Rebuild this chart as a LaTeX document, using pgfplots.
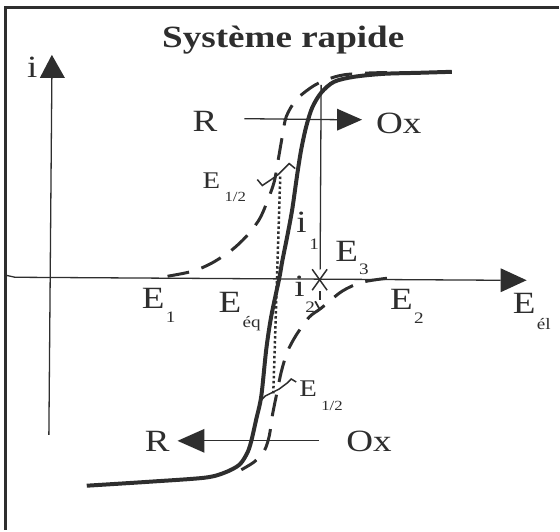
\documentclass[border=0pt]{standalone}
\usepackage{fontspec}
\setmainfont{Liberation Serif}[FakeStretch=1.2]
\usepackage{pgfplots}
\pgfplotsset{compat=1.18}
\usetikzlibrary{arrows.meta}
\definecolor{ink}{gray}{0.18}

\begin{document}
\begin{tikzpicture}[
  lbl/.style={anchor=base west, inner sep=0pt, text=ink, font=\fontsize{31}{36}\selectfont},
  sub/.style={anchor=base west, inner sep=0pt, text=ink, font=\fontsize{16}{18}\selectfont},
  hlbl/.style={anchor=base west, inner sep=0pt, text=ink, font=\fontsize{24}{28}\selectfont},
  hsub/.style={anchor=base west, inner sep=0pt, text=ink, font=\fontsize{14}{16}\selectfont},
]
\begin{axis}[
  scale only axis, width=560pt, height=531pt,
  xmin=0, xmax=560, ymin=0, ymax=531, y dir=reverse,
  hide axis, clip=false,
]
\path (axis cs:0,0) rectangle (axis cs:560,531);

% frame
\addplot[ink, line width=3pt] coordinates {(5.5,531) (5.5,7.5) (560,7.5)};

% current axis
\addplot[ink, line width=1.3pt] coordinates {(49,436) (52,78)};
\addplot[fill=ink, draw=none] coordinates {(40,78) (52,55) (65,78)} -- cycle;
% potential axis
\addplot[ink, line width=1.3pt] coordinates {(6,276) (15,278) (502,281)};
\addplot[fill=ink, draw=none] coordinates {(502,269) (528,281) (502,293)} -- cycle;

% oxidation arrow R -> Ox
\addplot[ink, line width=1.3pt] coordinates {(245,119) (338,120)};
\addplot[fill=ink, draw=none] coordinates {(338,109) (363,120) (338,131)} -- cycle;
% reduction arrow Ox -> R
\addplot[ink, line width=1.3pt] coordinates {(320,442) (205,442)};
\addplot[fill=ink, draw=none] coordinates {(205,430) (178,442) (205,454)} -- cycle;

% fast system: i-E curve
\addplot[ink, line width=4pt, smooth, tension=0.5] coordinates {
  (87,487) (150,483) (205,479) (225,474) (240,466) (248,454) (252,442)
  (257,420) (262,397) (267,350) (272,317) (280,279) (283,262) (288,237)
  (293,210) (298,175) (302,150) (307,127) (313,108) (322,93) (335,82)
  (355,77) (385,74) (420,73) (453,72)};

% slow system: anodic branch
\addplot[ink, line width=3pt, smooth, tension=0.5, dash pattern=on 22pt off 13pt] coordinates {
  (168,277) (193,272) (212,264) (232,251) (247,237) (260,220) (268,202)
  (275,182) (279,160) (283,137) (287,117) (297,100) (313,87) (327,80)
  (345,75) (375,73) (405,73)};
% slow system: cathodic branch
\addplot[ink, line width=3pt, smooth, tension=0.5, dash pattern=on 22pt off 13pt] coordinates {
  (388,279) (363,283) (343,292) (322,309) (310,318) (297,336) (288,353)
  (282,373) (277,397) (273,417) (270,437) (265,452) (255,463) (242,471)};

% half-wave potential
\addplot[ink, line width=2.5pt, dash pattern=on 2.5pt off 2.5pt] coordinates {(281,177) (274,395)};
\addplot[ink, line width=1.5pt] coordinates {(258,180) (263,186) (272,180) (279,175) (286,168) (290,164) (296,169)};
\addplot[ink, line width=1.5pt] coordinates {(262,401) (266,397) (272,394) (280,390) (288,384) (292,380) (297,383)};

% currents at E3
\addplot[ink, line width=1.3pt] coordinates {(322,85) (321,270)};
\addplot[ink, line width=1.5pt] coordinates {(313,270) (328,291)};
\addplot[ink, line width=1.5pt] coordinates {(328,270) (313,291)};
\addplot[ink, line width=1.3pt] coordinates {(321,292) (321,301)};
\addplot[ink, line width=1.8pt] coordinates {(316,302) (321,311)};

% labels
\node[anchor=base, inner sep=0pt, text=ink, font=\fontsize{31}{36}\selectfont\bfseries] at (axis cs:284,48) {Système rapide};
\node[lbl] at (axis cs:27,78) {i};
\node[lbl] at (axis cs:193,132) {R};
\node[lbl] at (axis cs:377,134) {Ox};
\node[lbl] at (axis cs:145,453) {R};
\node[lbl] at (axis cs:347,453) {Ox};

\node[hlbl] at (axis cs:203,189) {E};
\node[hsub] at (axis cs:225,202) {1/2};
\node[hlbl] at (axis cs:300,398) {E};
\node[hsub] at (axis cs:322,412) {1/2};

\node[lbl] at (axis cs:297,233) {i};
\node[sub] at (axis cs:310,250) {1};
\node[lbl] at (axis cs:336,262) {E};
\node[sub] at (axis cs:360,275) {3};
\node[lbl] at (axis cs:295,297) {i};
\node[sub] at (axis cs:306,313) {2};

\node[lbl] at (axis cs:142,309) {E};
\node[sub] at (axis cs:166,323) {1};
\node[lbl] at (axis cs:219,313) {E};
\node[sub] at (axis cs:243,328) {éq};
\node[lbl] at (axis cs:391,310) {E};
\node[sub] at (axis cs:415,324) {2};
\node[lbl] at (axis cs:514,314) {E};
\node[sub] at (axis cs:538,330) {él};
\end{axis}
\end{tikzpicture}
\end{document}
